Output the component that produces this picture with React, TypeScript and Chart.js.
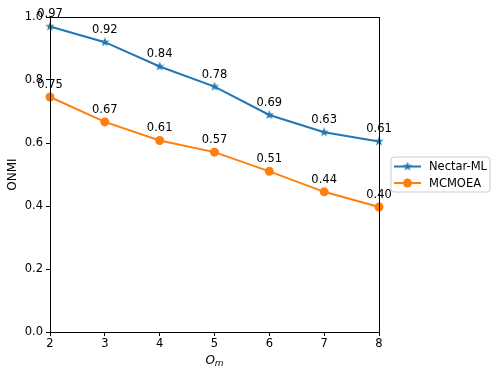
import React, { useEffect, useRef } from "react";
import { Chart, registerables } from "chart.js";

Chart.register(...registerables);

const xValues = [2, 3, 4, 5, 6, 7, 8];
const nectarValues = [0.97, 0.92, 0.843, 0.779, 0.689, 0.634, 0.605];
const nectarLabels = ["0.97", "0.92", "0.84", "0.78", "0.69", "0.63", "0.61"];
const mcmoeaValues = [0.746, 0.667, 0.608, 0.571, 0.51, 0.445, 0.397];
const mcmoeaLabels = ["0.75", "0.67", "0.61", "0.57", "0.51", "0.44", "0.40"];
const yTicks = [0, 0.2, 0.4, 0.6, 0.8, 1.0];

const BLUE = "#1f77b4";
const ORANGE = "#ff7f0e";
const FONT = "DejaVu Sans";

function makeStar(size: number, color: string) {
  const c = document.createElement("canvas");
  c.width = size;
  c.height = size;
  const ctx = c.getContext("2d")!;
  const cx = size / 2, cy = size / 2;
  const R = size / 2, r = R * 0.4;
  ctx.beginPath();
  for (let i = 0; i < 10; i++) {
    const rad = i % 2 === 0 ? R : r;
    const a = -Math.PI / 2 + (i * Math.PI) / 5;
    const px = cx + rad * Math.cos(a);
    const py = cy + rad * Math.sin(a);
    if (i === 0) ctx.moveTo(px, py);
    else ctx.lineTo(px, py);
  }
  ctx.closePath();
  ctx.fillStyle = color;
  ctx.fill();
  return c;
}

export default function App() {
  const ref = useRef<HTMLCanvasElement>(null);
  useEffect(() => {
    const star = makeStar(10, BLUE);
    const labelSets = [nectarLabels, mcmoeaLabels];
    const overlay = {
      id: "overlay",
      afterDatasetsDraw(chart: any) {
        const ctx = chart.ctx;
        const a = chart.chartArea;
        ctx.save();
        ctx.strokeStyle = "#000";
        ctx.lineWidth = 1;
        ctx.strokeRect(Math.round(a.left) + 0.5, Math.round(a.top) + 0.5, Math.round(a.right - a.left), Math.round(a.bottom - a.top));
        // value labels
        ctx.fillStyle = "#000";
        ctx.font = `11.5px "${FONT}"`;
        ctx.textAlign = "center";
        ctx.textBaseline = "alphabetic";
        chart.data.datasets.forEach((ds: any, di: number) => {
          const meta = chart.getDatasetMeta(di);
          meta.data.forEach((pt: any, i: number) => {
            ctx.fillText(labelSets[di][i], pt.x, pt.y - 9);
          });
        });
        // y title
        ctx.save();
        ctx.translate(13, (a.top + a.bottom) / 2);
        ctx.rotate(-Math.PI / 2);
        ctx.font = `12px "${FONT}"`;
        ctx.textAlign = "center";
        ctx.textBaseline = "middle";
        ctx.fillText("ONMI", 0, 0);
        ctx.restore();
        // x title O_m
        ctx.textBaseline = "alphabetic";
        ctx.font = `italic 12px "${FONT}"`;
        ctx.textAlign = "left";
        const cx = (a.left + a.right) / 2;
        const wO = ctx.measureText("O").width;
        ctx.font = `italic 9px "${FONT}"`;
        const wm = ctx.measureText("m").width;
        const start = cx - (wO + wm) / 2;
        ctx.font = `italic 12px "${FONT}"`;
        ctx.fillText("O", start, 364);
        ctx.font = `italic 9px "${FONT}"`;
        ctx.fillText("m", start + wO, 366);
        // legend
        const lx = 391, ly = 157, lw = 99, lh = 35;
        ctx.beginPath();
        const rr = 3;
        ctx.moveTo(lx + rr, ly);
        ctx.arcTo(lx + lw, ly, lx + lw, ly + lh, rr);
        ctx.arcTo(lx + lw, ly + lh, lx, ly + lh, rr);
        ctx.arcTo(lx, ly + lh, lx, ly, rr);
        ctx.arcTo(lx, ly, lx + lw, ly, rr);
        ctx.closePath();
        ctx.fillStyle = "rgba(255,255,255,0.8)";
        ctx.fill();
        ctx.strokeStyle = "#cccccc";
        ctx.lineWidth = 1;
        ctx.stroke();
        const rows = [
          { y: ly + 9.5, color: BLUE, label: "Nectar-ML", marker: "star" },
          { y: ly + 26, color: ORANGE, label: "MCMOEA", marker: "circle" },
        ];
        rows.forEach((r) => {
          ctx.strokeStyle = r.color;
          ctx.lineWidth = 2;
          ctx.beginPath();
          ctx.moveTo(394, r.y);
          ctx.lineTo(421, r.y);
          ctx.stroke();
          if (r.marker === "star") {
            ctx.drawImage(star, 407.5 - 5, r.y - 5);
          } else {
            ctx.fillStyle = r.color;
            ctx.beginPath();
            ctx.arc(407.5, r.y, 4.5, 0, Math.PI * 2);
            ctx.fill();
          }
          ctx.fillStyle = "#000";
          ctx.font = `11.5px "${FONT}"`;
          ctx.textAlign = "left";
          ctx.textBaseline = "middle";
          ctx.fillText(r.label, 429, r.y + 1);
        });
        ctx.restore();
      },
    };
    const chart = new Chart(ref.current!, {
      type: "line",
      data: {
        datasets: [
          {
            label: "Nectar-ML",
            data: xValues.map((x, i) => ({ x, y: nectarValues[i] })),
            borderColor: BLUE,
            backgroundColor: BLUE,
            borderWidth: 2,
            pointStyle: star as any,
            pointRadius: 5,
            clip: false as any,
          },
          {
            label: "MCMOEA",
            data: xValues.map((x, i) => ({ x, y: mcmoeaValues[i] })),
            borderColor: ORANGE,
            backgroundColor: ORANGE,
            borderWidth: 2,
            pointStyle: "circle",
            pointRadius: 4.5,
            pointBorderWidth: 0,
            clip: false as any,
          },
        ],
      },
      options: {
        animation: false,
        responsive: false,
        layout: { padding: { left: 0, right: 120, top: 17, bottom: 0 } },
        plugins: { legend: { display: false }, tooltip: { enabled: false } },
        scales: {
          x: {
            type: "linear",
            min: 2,
            max: 8,
            afterFit: (s: any) => { s.height = 43; },
            ticks: {
              stepSize: 1,
              color: "#000",
              font: { family: FONT, size: 11.5 },
              padding: 1,
              callback: (v: any) => String(v),
            },
            grid: { drawOnChartArea: false, drawTicks: true, tickLength: 4, tickColor: "#000" },
            border: { display: true, color: "#000", width: 1 },
          },
          y: {
            min: 0,
            max: 1,
            afterFit: (s: any) => { s.width = 50; },
            afterBuildTicks: (s: any) => { s.ticks = yTicks.map((v) => ({ value: v })); },
            ticks: {
              color: "#000",
              font: { family: FONT, size: 11.5 },
              padding: 3,
              callback: (v: any) => Number(v).toFixed(1),
            },
            grid: { drawOnChartArea: false, drawTicks: true, tickLength: 4, tickColor: "#000" },
            border: { display: true, color: "#000", width: 1 },
          },
        },
      },
      plugins: [overlay],
    });
    return () => chart.destroy();
  }, []);
  return (
    <div style={{ position: "absolute", left: 0, top: 0, width: 499, height: 375, background: "#fff" }}>
      <canvas ref={ref} width={499} height={375} style={{ width: 499, height: 375, display: "block" }} />
    </div>
  );
}
